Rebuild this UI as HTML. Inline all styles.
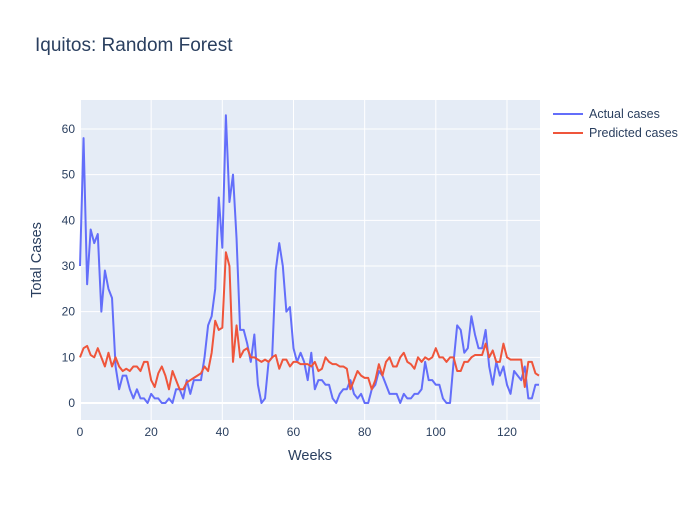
<!DOCTYPE html>
<html><head><meta charset="utf-8"><style>
body{margin:0;background:#fff;font-family:"Liberation Sans",sans-serif;}
svg text{font-family:"Liberation Sans",sans-serif;fill:#2a3f5f;}
</style></head><body>
<svg id="chart" width="700" height="500">
<rect x="0" y="0" width="700" height="500" fill="#fff"/>
<text x="35" y="51" font-size="19">Iquitos: Random Forest</text>
<rect x="80" y="100" width="460" height="320" fill="#e5ecf6"/>
<g id="grid"></g>
<g id="series"></g>
<g id="ticks"></g>
<text x="310" y="460" font-size="14.5" text-anchor="middle">Weeks</text>
<text transform="translate(41,260) rotate(-90)" font-size="14.5" text-anchor="middle">Total Cases</text>
<g>
<g>
<line x1="553" y1="114" x2="583" y2="114" stroke="#636efa" stroke-width="2"/>
<text x="589" y="118" font-size="12.5">Actual cases</text></g>
<g>
<line x1="553" y1="133" x2="583" y2="133" stroke="#ef553b" stroke-width="2"/>
<text x="589" y="137" font-size="12.5">Predicted cases</text></g>
</g>
</svg>
<script>
const actual=[30,58,26,38,35,37,20,29,25,23,8,3,6,6,3,1,3,1,1,0,2,1,1,0,0,1,0,3,3,1,5,2,5,5,5,10,17,19,25,45,34,63,44,50,36,16,16,13,9,15,4,0,1,9,10,29,35,30,20,21,12,9,11,9,5,11,3,5,5,4,4,1,0,2,3,3,5,2,1,2,0,0,3,4,7,6,4,2,2,2,0,2,1,1,2,2,3,9,5,5,4,4,1,0,0,9,17,16,11,12,19,15,12,12,16,8,4,9,6,8,4,2,7,6,5,8,1,1,4,4];
const predicted=[10,12,12.5,10.5,10,12,10,8,11,8,10,8,7,7.5,7,8,8,7,9,9,5,3.5,6.5,8,6,3,7,5,3,3,4.5,5,5.5,6,6.5,8,7,11,18,16,16.5,33,30,9,17,10,11.5,12,10,10,9.5,9,9.5,9,10,10.5,7.5,9.5,9.5,8,9,9,8.5,8.5,8.5,8,9,7,7.5,10,9,8.5,8.5,8,8,7.5,3,5,7,6,5.5,5.5,3,5,8.5,6,9,10,8,8,10,11,9,8.5,7.5,10,9,10,9.5,10,12,10,10,9,10,10,7,7,9,9,10,10.5,10.5,10.5,13,10,11.5,9,9,13,10,9.5,9.5,9.5,9.5,3.5,9,9,6.5,6];
const xTicks=[0,20,40,60,80,100,120];
const yTicks=[0,10,20,30,40,50,60];
const NS="http://www.w3.org/2000/svg";
const X0=80,X1=539,XMAX=129;
function xs(v){return X0+v*(X1-X0)/XMAX;}
function ys(v){return 403-v*4.567;}
const grid=document.getElementById('grid'),ticks=document.getElementById('ticks'),ser=document.getElementById('series');
function mk(t,a,p){const e=document.createElementNS(NS,t);for(const k in a)e.setAttribute(k,a[k]);p.appendChild(e);return e;}
xTicks.forEach(t=>{const l=mk('line',{x1:xs(t),x2:xs(t),y1:100,y2:420,stroke:'#fff','stroke-width':t===0?2:1},grid);


const tx=mk('text',{x:xs(t),y:436,'font-size':12,'text-anchor':'middle'},ticks);tx.textContent=t;

});
yTicks.forEach(t=>{const l=mk('line',{x1:80,x2:540,y1:ys(t),y2:ys(t),stroke:'#fff','stroke-width':t===0?2:1},grid);


const tx=mk('text',{x:75,y:ys(t)+4,'font-size':12,'text-anchor':'end'},ticks);tx.textContent=t;

});
function line(d,c,name){const p=mk('polyline',{points:d.map((v,i)=>xs(i)+','+ys(v)).join(' '),fill:'none',stroke:c,'stroke-width':2,'stroke-linejoin':'round'},ser);

}
line(actual,'#636efa','actual-cases-line');
line(predicted,'#ef553b','predicted-cases-line');
</script>
</body></html>
